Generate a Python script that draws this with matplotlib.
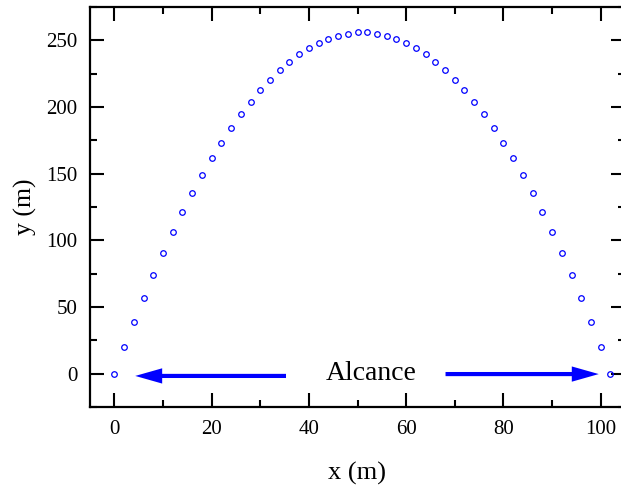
import matplotlib
matplotlib.use("Agg")
import matplotlib.pyplot as plt
from matplotlib.ticker import MultipleLocator
from matplotlib.patches import FancyArrowPatch

plt.rcParams['font.family'] = ['Liberation Serif', 'DejaVu Serif']

x_vals = [0, 2, 4, 6, 8, 10, 12, 14, 16, 18, 20, 22, 24, 26, 28, 30, 32, 34, 36, 38,
          40, 42, 44, 46, 48, 50, 52, 54, 56, 58, 60, 62, 64, 66, 68, 70, 72, 74, 76,
          78, 80, 82, 84, 86, 88, 90, 92, 94, 96, 98, 100, 102]
y_vals = [0.0, 19.7, 38.6, 56.7, 74.0, 90.5, 106.3, 121.3, 135.4, 148.8, 161.4, 173.2,
          184.2, 194.5, 203.9, 212.6, 220.5, 227.6, 233.8, 239.4, 244.1, 248.0, 251.2,
          253.5, 255.1, 255.9, 255.9, 255.1, 253.5, 251.2, 248.0, 244.1, 239.4, 233.8,
          227.6, 220.5, 212.6, 203.9, 194.5, 184.2, 173.2, 161.4, 148.8, 135.4, 121.3,
          106.3, 90.5, 74.0, 56.7, 38.6, 19.7, 0.0]

label_text = "Alcance"
left_arrow = (35.3, 4.3, -1.7)    # tail x, tip x, y
right_arrow = (68.1, 99.6, -0.3)
label_pos = (52.8, 0.5)

fig = plt.figure(figsize=(6.21, 4.86), dpi=100)
ax = fig.add_axes([90/621, 1 - 407/486, 535/621, 400/486])

ax.plot(x_vals, y_vals, linestyle='none', marker='o', markersize=4.0,
        markerfacecolor='none', markeredgecolor='#0000ff', markeredgewidth=0.9)

for tail, tip, yy in (left_arrow, right_arrow):
    arr = FancyArrowPatch((tail, yy), (tip, yy),
                          arrowstyle='simple,head_length=0.97,head_width=0.55,tail_width=0.15',
                          mutation_scale=20, color='#0000ff', lw=0,
                          shrinkA=0, shrinkB=0)
    ax.add_patch(arr)

ax.text(label_pos[0], label_pos[1], label_text, fontsize=20, ha='center', va='center')

ax.set_xlim(-5, 105)
ax.set_ylim(-25, 275)
ax.xaxis.set_major_locator(MultipleLocator(20))
ax.xaxis.set_minor_locator(MultipleLocator(10))
ax.yaxis.set_major_locator(MultipleLocator(50))
ax.yaxis.set_minor_locator(MultipleLocator(25))
ax.tick_params(which='both', direction='in', top=True, right=True, width=1.5,
               labelsize=15, pad=9)
ax.tick_params(which='major', length=10)
ax.tick_params(which='minor', length=5)
for s in ax.spines.values():
    s.set_linewidth(1.6)
ax.spines['right'].set_visible(False)

ax.set_xlabel('x (m)', fontsize=19, labelpad=17)
ax.set_ylabel('y (m)', fontsize=18.5, labelpad=7)

fig.savefig('out.png', dpi=100)
